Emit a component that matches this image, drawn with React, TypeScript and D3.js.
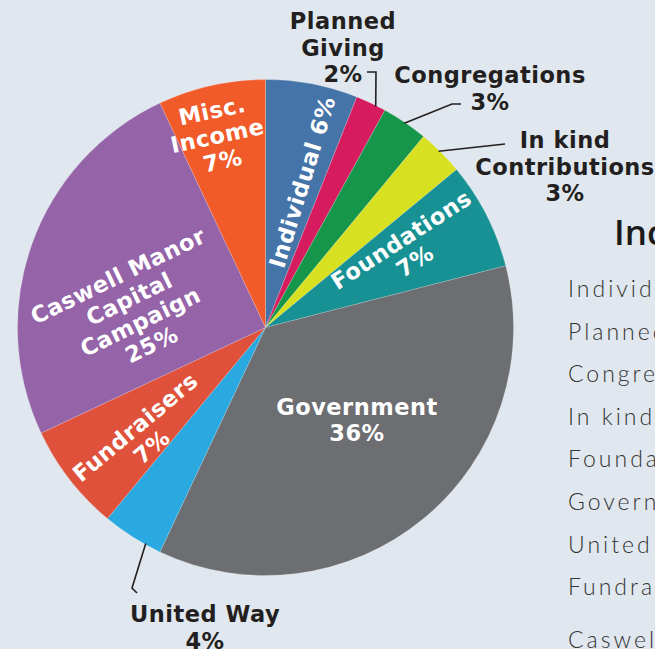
import React from 'react';
import * as d3 from 'd3';

// income sources, clockwise from 12 o'clock
const categories = [
  'Individual',
  'Planned Giving',
  'Congregations',
  'In kind Contributions',
  'Foundations',
  'Government',
  'United Way',
  'Fundraisers',
  'Caswell Manor Capital Campaign',
  'Misc. Income',
];
const shares = [6, 2, 3, 3, 7, 36, 4, 7, 25, 7];
const sliceColors = [
  '#4574a8', '#d61c5e', '#16964a', '#d8e022', '#179193',
  '#6d6e71', '#29a9e0', '#df513b', '#9563a8', '#f15a29',
];
const legendTitle = 'Income';
const legendItems = [
  'Individual',
  'Planned Giving',
  'Congregations',
  'In kind Contributions',
  'Foundations',
  'Government',
  'United Way',
  'Fundraisers',
  'Caswell Manor Capital Campaign',
];

const W = 655;
const H = 649;
const CX = 265.5;
const CY = 327.5;
const R = 248;
const BG = '#e0e7ee';
const INK = '#231f20';
const BOLD_FONT = "'DejaVu Sans', Lato, sans-serif";

// inside labels: polar placement (deg clockwise from top), rotation, line text
const insideLabels: Record<number, { a: number; r: number; rot: number; lines: string[] }> = {
  0: { a: 14.1, r: 150, rot: -73, lines: ['Individual 6%'] },
  4: { a: 61.5, r: 162, rot: -33, lines: ['Foundations', '7%'] },
  5: { a: 135.3, r: 130, rot: 0, lines: ['Government', '36%'] },
  7: { a: 228.2, r: 164, rot: -40, lines: ['Fundraisers', '7%'] },
  8: { a: 277.6, r: 132, rot: -26, lines: ['Caswell Manor', 'Capital', 'Campaign', '25%'] },
  9: { a: 345.9, r: 198, rot: -12, lines: ['Misc.', 'Income', '7%'] },
};

// outside labels with leader lines
const outsideLabels: Record<number, { x: number; y: number; lines: string[]; leader: [number, number][]; a: number }> = {
  1: { x: 343, y: 29, lines: ['Planned', 'Giving', '2%'], a: 26.5, leader: [[376, 72], [367, 72]] },
  2: { x: 490, y: 83, lines: ['Congregations', '3%'], a: 34.2, leader: [[452, 104], [461, 104]] },
  3: { x: 565, y: 148, lines: ['In kind', 'Contributions', '3%'], a: 44.5, leader: [[505, 144]] },
  6: { x: 205, y: 622, lines: ['United Way', '4%'], a: 209, leader: [[132, 588], [137, 593]] },
};

const polar = (deg: number, r: number): [number, number] => {
  const t = (deg * Math.PI) / 180;
  return [CX + r * Math.sin(t), CY - r * Math.cos(t)];
};

export default function App() {
  const pie = d3.pie<number>().sort(null).value((d) => d)(shares);
  const arc = d3.arc<d3.PieArcDatum<number>>().innerRadius(0).outerRadius(R);
  const lineGen = d3.line();
  const size = 22.5;

  return (
    <div style={{ position: 'fixed', left: 0, top: 0, width: W, height: H, background: BG }}>
      <svg width={W} height={H}>
        <rect width={W} height={H} fill={BG} />
        <g transform={`translate(${CX},${CY})`}>
          {pie.map((d, i) => (
            <path key={categories[i]} d={arc(d) || ''} fill={sliceColors[i]} stroke="#ffffff" strokeOpacity={0.3} strokeWidth={0.6} />
          ))}
        </g>

        {/* labels inside slices */}
        {Object.entries(insideLabels).map(([k, l]) => {
          const [x, y] = polar(l.a, l.r);
          const lh = 25.5;
          const y0 = -((l.lines.length - 1) * lh) / 2 + size * 0.36;
          return (
            <g key={k} transform={`translate(${x},${y}) rotate(${l.rot})`}>
              {l.lines.map((t, j) => (
                <text key={j} x={0} y={y0 + j * lh} textAnchor="middle" fill="#ffffff"
                  style={{ fontFamily: BOLD_FONT, fontWeight: 700, fontSize: size, letterSpacing: 0.5 }}>
                  {t}
                </text>
              ))}
            </g>
          );
        })}

        {/* labels outside the pie */}
        {Object.entries(outsideLabels).map(([k, l]) => {
          const start = polar(l.a, R - 1);
          const pts: [number, number][] = [start, ...l.leader];
          return (
            <g key={k}>
              <path d={lineGen(pts) || ''} fill="none" stroke={INK} strokeWidth={1.6} />
              {l.lines.map((t, j) => (
                <text key={j} x={l.x} y={l.y + j * 26.5} textAnchor="middle" fill={INK}
                  style={{ fontFamily: BOLD_FONT, fontWeight: 700, fontSize: size, letterSpacing: 0.5 }}>
                  {t}
                </text>
              ))}
            </g>
          );
        })}

        {/* legend (cut by the right edge) */}
        <text x={614} y={245} fill="#1a1a1a" style={{ fontFamily: "'Open Sans', 'Liberation Sans', sans-serif", fontWeight: 600, fontSize: 35 }}>
          {legendTitle}
        </text>
        {legendItems.map((t, i) => (
          <text key={t} x={568} y={i < 8 ? 297 + i * 42.6 : 648} fill="#333333"
            style={{ fontFamily: "Lato, 'Noto Sans', sans-serif", fontWeight: 300, fontSize: 23, letterSpacing: 3 }}>
            {t}
          </text>
        ))}
      </svg>
    </div>
  );
}
